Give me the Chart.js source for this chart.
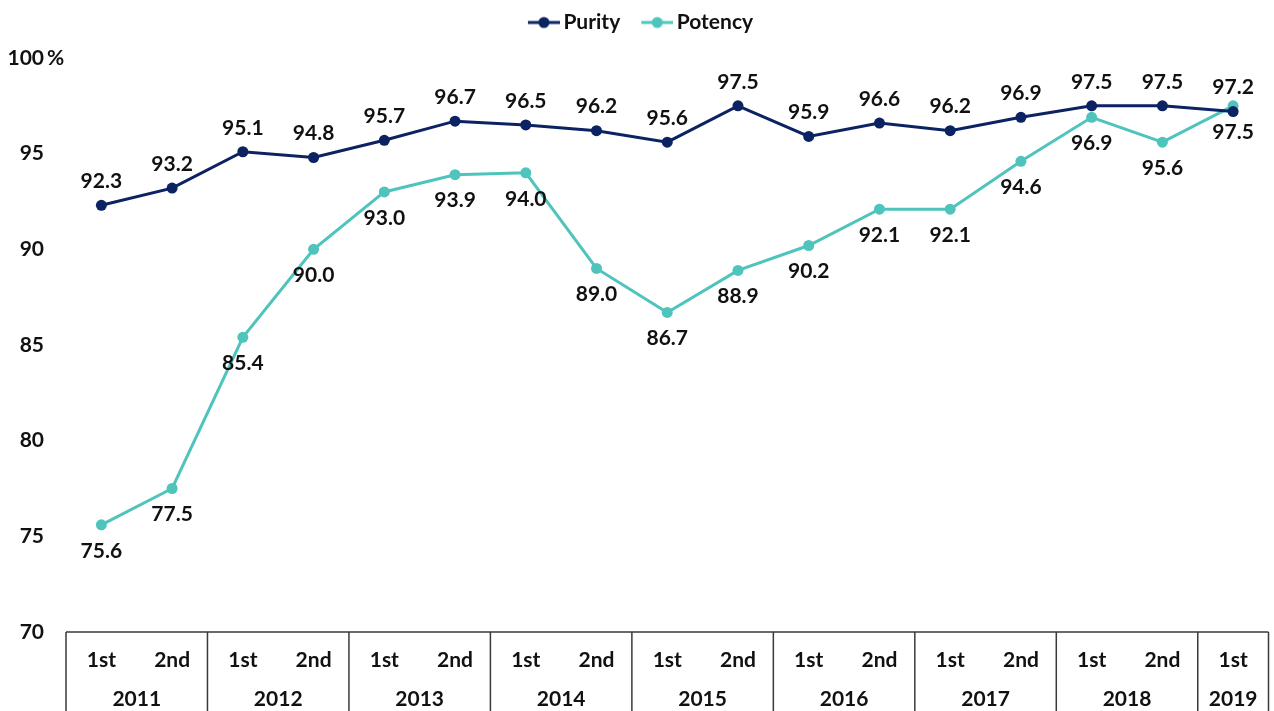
<!DOCTYPE html>
<html>
<head>
<meta charset="utf-8">
<script src="https://cdn.jsdelivr.net/npm/chart.js@4"></script>
<style>
  html, body { margin: 0; padding: 0; background: #ffffff; }
  #wrap { width: 1274px; height: 711px; }
</style>
</head>
<body>
<div id="wrap"><canvas id="c" width="1274" height="711"></canvas></div>
<script>
const periods = ['1st','2nd','1st','2nd','1st','2nd','1st','2nd','1st','2nd','1st','2nd','1st','2nd','1st','2nd','1st'];
const years = ['2011','2011','2012','2012','2013','2013','2014','2014','2015','2015','2016','2016','2017','2017','2018','2018','2019'];
const purity = [92.3, 93.2, 95.1, 94.8, 95.7, 96.7, 96.5, 96.2, 95.6, 97.5, 95.9, 96.6, 96.2, 96.9, 97.5, 97.5, 97.2];
const potency = [75.6, 77.5, 85.4, 90.0, 93.0, 93.9, 94.0, 89.0, 86.7, 88.9, 90.2, 92.1, 92.1, 94.6, 96.9, 95.6, 97.5];
const yTicks = [70, 75, 80, 85, 90, 95, 100];

const NAVY = '#0b2263';
const TEAL = '#4fc4bd';
const FONT = 'Lato, "Noto Sans", sans-serif';
const TEXT = '#111111';
const FS = 21;

function marker(color) {
  const c = document.createElement('canvas');
  c.width = 50; c.height = 14;
  const g = c.getContext('2d');
  g.strokeStyle = color; g.lineWidth = 3;
  g.beginPath(); g.moveTo(18, 7); g.lineTo(50, 7); g.stroke();
  g.fillStyle = color;
  g.beginPath(); g.arc(34, 7, 5.5, 0, Math.PI * 2); g.fill();
  return c;
}
const markers = [marker(NAVY), marker(TEAL)];

const legendSpace = {
  id: 'legendSpace',
  beforeInit(chart) {
    const lg = chart.legend;
    const fit = lg.fit;
    lg.fit = function () { fit.call(lg); lg.height += 15; };
  }
};

const labelPlugin = {
  id: 'valueLabels',
  afterDatasetsDraw(chart) {
    const ctx = chart.ctx;
    ctx.save();
    ctx.font = 'bold ' + FS + 'px ' + FONT;
    ctx.fillStyle = TEXT;
    ctx.textAlign = 'center';
    ctx.textBaseline = 'middle';
    chart.data.datasets.forEach((ds, di) => {
      const meta = chart.getDatasetMeta(di);
      meta.data.forEach((pt, i) => {
        const off = di === 0 ? -24 : 26;
        ctx.fillText(ds.data[i].toFixed(1), pt.x, pt.y + off);
      });
    });
    ctx.restore();
  }
};

const axisBoxPlugin = {
  id: 'axisBox',
  afterDraw(chart) {
    const ctx = chart.ctx;
    const xs = chart.scales.x;
    const ys = chart.scales.y;
    const area = chart.chartArea;
    const top = area.bottom;
    const bottom = chart.height;
    ctx.save();
    ctx.strokeStyle = '#3a3a3a';
    ctx.lineWidth = 1.5;
    ctx.beginPath();
    ctx.moveTo(area.left, top); ctx.lineTo(area.right, top);
    const n = years.length;
    const edge = (i) => {
      if (i <= 0) return area.left;
      if (i >= n) return area.right;
      return (xs.getPixelForValue(i - 1) + xs.getPixelForValue(i)) / 2;
    };
    const groups = [];
    let start = 0;
    for (let i = 1; i <= n; i++) {
      if (i === n || years[i] !== years[start]) {
        groups.push({ label: years[start], s: start, e: i });
        start = i;
      }
    }
    groups.forEach(g => {
      const x = edge(g.s);
      ctx.moveTo(x, top); ctx.lineTo(x, bottom);
    });
    ctx.moveTo(area.right, top); ctx.lineTo(area.right, bottom);
    ctx.stroke();
    ctx.font = 'bold ' + FS + 'px ' + FONT;
    ctx.fillStyle = TEXT;
    ctx.textAlign = 'center';
    ctx.textBaseline = 'middle';
    groups.forEach(g => {
      const cx = (xs.getPixelForValue(g.s) + xs.getPixelForValue(g.e - 1)) / 2;
      ctx.fillText(g.label, cx, top + 67);
    });
    const y100 = ys.getPixelForValue(yTicks[yTicks.length - 1]);
    ctx.textAlign = 'left';
    ctx.fillText('%', 47, y100);
    ctx.restore();
  }
};

new Chart(document.getElementById('c'), {
  type: 'line',
  data: {
    labels: periods,
    datasets: [
      { label: 'Purity', data: purity, borderColor: NAVY, backgroundColor: NAVY,
        borderWidth: 3, pointRadius: 5.5, pointHoverRadius: 5.5, pointBorderWidth: 0, tension: 0 },
      { label: 'Potency', data: potency, borderColor: TEAL, backgroundColor: TEAL,
        borderWidth: 3, pointRadius: 5.5, pointHoverRadius: 5.5, pointBorderWidth: 0, tension: 0 }
    ]
  },
  options: {
    responsive: false,
    animation: false,
    events: [],
    layout: { padding: { top: 2, right: 4, left: 0, bottom: 0 } },
    plugins: {
      tooltip: { enabled: false },
      legend: {
        position: 'top',
        align: 'center',
        labels: {
          usePointStyle: true,
          pointStyleWidth: 36,
          boxHeight: 14,
          padding: 10,
          color: TEXT,
          font: { family: FONT, size: FS, weight: 'bold' },
          generateLabels(chart) {
            const items = Chart.defaults.plugins.legend.labels.generateLabels(chart);
            items.forEach((it, i) => { it.pointStyle = markers[i]; });
            return items;
          }
        }
      }
    },
    scales: {
      x: {
        type: 'category',
        offset: true,
        grid: { display: false, drawTicks: false },
        border: { display: false },
        ticks: {
          color: TEXT,
          font: { family: FONT, size: FS, weight: 'bold' },
          padding: 16,
          maxRotation: 0,
          autoSkip: false
        },
        afterFit(scale) { scale.height = 79; }
      },
      y: {
        min: 70,
        max: 100,
        afterBuildTicks(scale) { scale.ticks = yTicks.map(v => ({ value: v })); },
        grid: { display: false, drawTicks: false },
        border: { display: false },
        ticks: {
          color: TEXT,
          font: { family: FONT, size: FS, weight: 'bold' },
          padding: 22,
          callback: (v) => String(v)
        },
        afterFit(scale) { scale.width = 66; }
      }
    }
  },
  plugins: [legendSpace, labelPlugin, axisBoxPlugin]
});
</script>
</body>
</html>
